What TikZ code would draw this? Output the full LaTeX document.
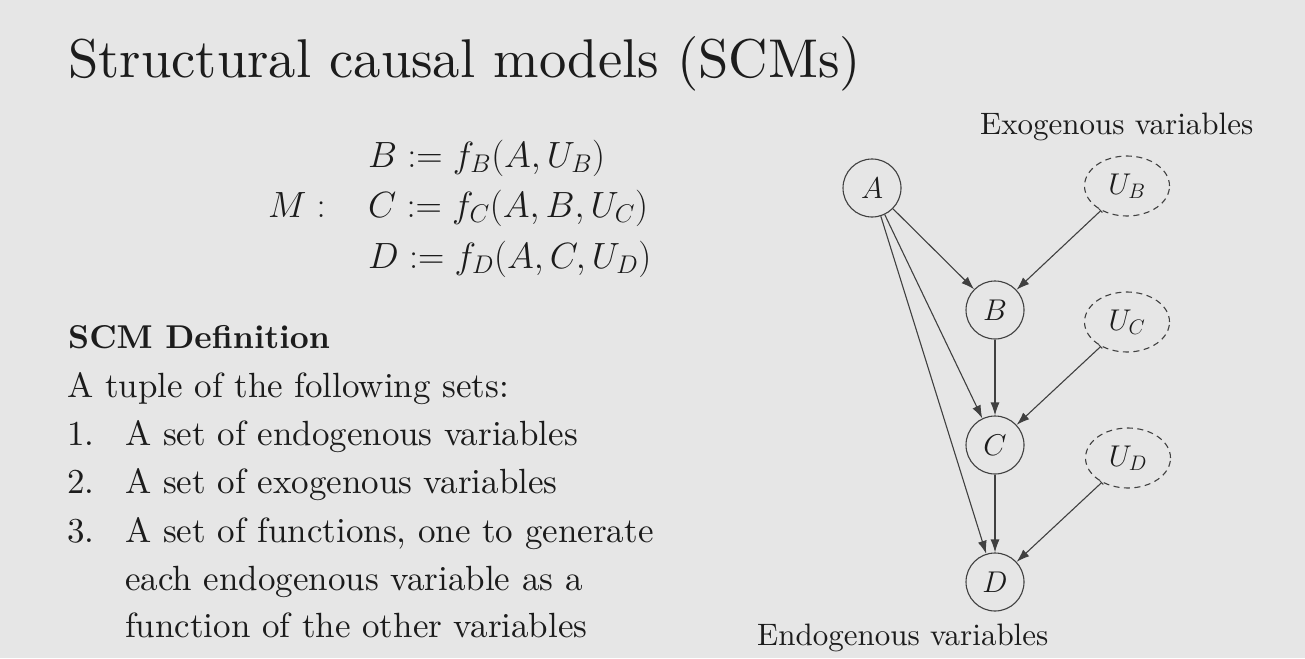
\RequirePackage{fix-cm}
\documentclass[tikz,border=0pt]{standalone}
\usepackage{amsmath}
\usepackage{fontspec}
\setmainfont{lmroman10}[Extension=.otf,UprightFont=*-regular,BoldFont=*-bold,
  ItalicFont=*-italic,BoldItalicFont=*-bolditalic]
\usetikzlibrary{arrows.meta,shapes.geometric}
\definecolor{slidebg}{HTML}{E6E6E6}
\definecolor{ink}{HTML}{1C1C1C}
\definecolor{edgeink}{HTML}{404040}

\begin{document}
\begin{tikzpicture}[x=1pt,y=-1pt,
    var/.style={circle,draw=edgeink,line width=1.1pt,minimum size=58pt,inner sep=0pt,
      text=ink,font=\fontsize{30}{34}\selectfont},
    exo/.style={ellipse,draw=edgeink,line width=1.1pt,dash pattern=on 6pt off 4.5pt,
      minimum width=85pt,minimum height=60pt,inner sep=0pt,text=ink,font=\fontsize{30}{34}\selectfont},
    cause/.style={draw=edgeink,line width=1.1pt,-{Latex[length=13pt,width=9pt]}},
    noise/.style={cause,{Bar[width=5pt,line width=1pt]}-{Latex[length=13pt,width=9pt]}},
    txt/.style={anchor=base west,inner sep=0pt,text=ink,font=\fontsize{35}{42}\selectfont},
    glabel/.style={txt,font=\fontsize{31}{37}\selectfont},
    eqn/.style={anchor=base west,inner sep=0pt,text=ink,font=\fontsize{36.5}{42}\selectfont}]
  \fill[slidebg] (0,0) rectangle (1305,658);
  \useasboundingbox (0,0) rectangle (1305,658);

  % title
  \node[txt,font=\fontsize{54.6}{62}\selectfont] (title) at (68,78) {Structural causal models (SCMs)};

  % structural equations
  \node[eqn] (eqM) at (268,217) {$M:$};
  \node[eqn] (eqB) at (368,167) {$B := f_B(A, U_B)$};
  \node[eqn] (eqC) at (368,217) {$C := f_C(A, B, U_C)$};
  \node[eqn] (eqD) at (368,268) {$D := f_D(A, C, U_D)$};

  % definition
  \node[txt,font=\fontsize{33}{40}\selectfont\bfseries] (defhead) at (68,348) {SCM Definition};
  \node[txt] (tuple) at (67,397) {A tuple of the following sets:};
  \node[txt] (num1) at (67,445) {1.};
  \node[txt] (item1) at (125,445) {A set of endogenous variables};
  \node[txt] (num2) at (67,493) {2.};
  \node[txt] (item2) at (125,493) {A set of exogenous variables};
  \node[txt] (num3) at (67,542) {3.};
  \node[txt] (item3) at (125,542) {A set of functions, one to generate};
  \node[txt] (item3b) at (125,590) {each endogenous variable as a};
  \node[txt] (item3c) at (125,637) {function of the other variables};

  % causal graph
  \node[var] (A) at (872,188) {$A$};
  \node[var] (B) at (995,310) {$B$};
  \node[var] (C) at (995,445) {$C$};
  \node[var] (D) at (995,582) {$D$};
  \node[exo] (UB) at (1127,186) {$U_B$};
  \node[exo] (UC) at (1127,322) {$U_C$};
  \node[exo] (UD) at (1128,458) {$U_D$};

  \draw[cause] (A) -- (B);
  \draw[cause] (A) -- (C);
  \draw[cause] (A) -- (D);
  \draw[cause] (B) -- (C);
  \draw[cause] (C) -- (D);
  \draw[noise] (UB) -- (B);
  \draw[noise] (UC) -- (C);
  \draw[noise] (UD) -- (D);

  \node[glabel] (exolabel) at (980,135) {Exogenous variables};
  \node[glabel] (endolabel) at (757,645) {Endogenous variables};
\end{tikzpicture}
\end{document}
